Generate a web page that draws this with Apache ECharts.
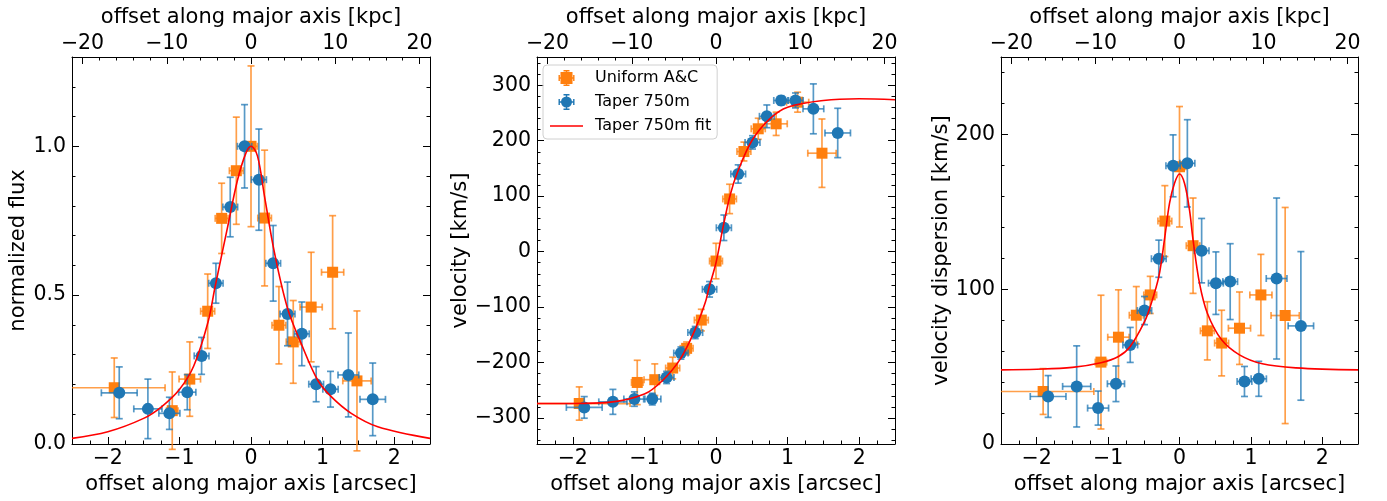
<!DOCTYPE html>
<html>
<head>
<meta charset="utf-8">
<script src="https://cdn.jsdelivr.net/npm/echarts@6/dist/echarts.min.js"></script>
<style>
  html, body { margin: 0; padding: 0; background: #fff; }
  #chart { width: 1387px; height: 501px; }
</style>
</head>
<body>
<div id="chart"></div>
<script>
// offsets along the major axis [arcsec] and their half-widths
var uniformX    = [-1.91, -1.10, -0.855, -0.605, -0.41, -0.205, 0.0, 0.19, 0.39, 0.59, 0.84, 1.14, 1.48];
var uniformXerr = [0.71, 0.08, 0.15, 0.098, 0.09, 0.097, 0.09, 0.095, 0.097, 0.098, 0.155, 0.155, 0.198];
var taperX      = [-1.84, -1.44, -1.14, -0.89, -0.69, -0.49, -0.29, -0.09, 0.11, 0.31, 0.51, 0.71, 0.91, 1.11, 1.36, 1.70];
var taperXerr   = [0.25, 0.197, 0.147, 0.12, 0.103, 0.1, 0.103, 0.1, 0.105, 0.103, 0.104, 0.103, 0.103, 0.107, 0.145, 0.178];

// normalized flux
var fluxUniform    = [0.189, 0.112, 0.218, 0.446, 0.758, 0.918, 1.0, 0.759, 0.399, 0.343, 0.460, 0.577, 0.212];
var fluxUniformErr = [0.10, 0.13, 0.125, 0.125, 0.118, 0.18, 0.27, 0.228, 0.13, 0.139, 0.184, 0.19, 0.235];
var fluxTaper      = [0.172, 0.118, 0.103, 0.174, 0.296, 0.540, 0.796, 1.0, 0.888, 0.607, 0.437, 0.370, 0.201, 0.184, 0.232, 0.150];
var fluxTaperErr   = [0.087, 0.10, 0.054, 0.059, 0.062, 0.067, 0.10, 0.14, 0.17, 0.127, 0.107, 0.107, 0.059, 0.06, 0.141, 0.122];
var fluxFitX = [-2.5, -2.0, -1.5, -1.25, -1.0, -0.8, -0.6, -0.5, -0.33, -0.19, -0.07, 0.0, 0.09, 0.19, 0.33, 0.51, 0.7, 0.93, 1.12, 1.4, 1.77, 2.5];
var fluxFitY = [0.019, 0.041, 0.086, 0.125, 0.183, 0.262, 0.41, 0.53, 0.725, 0.885, 0.978, 1.0, 0.968, 0.83, 0.64, 0.456, 0.338, 0.215, 0.159, 0.103, 0.058, 0.019];

// velocity [km/s]
var velUniform    = [-274, -236, -231, -210, -174.5, -123.5, -17, 95, 180.5, 221.5, 230.5, 269.5, 177.5];
var velUniformErr = [30, 40, 28.5, 19.5, 11.5, 19.5, 32, 26.5, 17, 19, 21, 18, 61.7];
var velTaper      = [-281, -271, -266, -266, -227, -183, -146, -68, 43, 140, 197, 244, 272.6, 272.6, 257.5, 214];
var velTaperErr   = [19.5, 22.5, 13, 10.5, 11, 11, 11, 14, 23, 16.5, 12, 20.5, 8.5, 13.5, 45, 44.5];
var velFitX = [-2.5, -2.0, -1.5, -1.0, -0.75, -0.5, -0.3, -0.15, -0.1, 0.0, 0.1, 0.2, 0.3, 0.5, 0.75, 1.0, 1.5, 2.0, 2.5];
var velFitY = [-274, -274, -272, -257, -233, -194, -143, -92, -66, -20, 45, 103, 143, 200, 239.5, 260.5, 272.5, 275.6, 274];

// velocity dispersion [km/s]
var dispUniform    = [33.9, 52.9, 69, 83.2, 96.3, 144, 179.1, 128.1, 73.1, 65.2, 74.8, 96.3, 83];
var dispUniformErr = [14.8, 43.2, 30.6, 18.5, 12, 22.9, 38.9, 30.8, 18.8, 21.2, 23.4, 26.2, 69.8];
var dispTaper      = [30.7, 37.2, 23.2, 38.9, 64, 86.2, 119.7, 179.7, 181.3, 124.9, 103.9, 104.9, 40.4, 42.1, 106.9, 76.3];
var dispTaperErr   = [13.5, 26.2, 11, 11.5, 11.3, 9.1, 12, 20, 28.2, 20.8, 20.2, 24.5, 9.7, 11.3, 52, 48];
var dispFitX = [-2.5, -2.0, -1.5, -1.1, -0.855, -0.69, -0.49, -0.41, -0.29, -0.205, -0.14, -0.07, 0.0, 0.07, 0.14, 0.19, 0.28, 0.39, 0.59, 0.84, 1.16, 1.63, 2.5];
var dispFitY = [47.9, 48.3, 49.5, 52.5, 56.5, 63, 79, 88.8, 108.1, 134, 155.5, 168.4, 174.4, 168.4, 151.2, 131.8, 103.9, 84.5, 67.3, 57.6, 51.8, 49.2, 47.9];

// tick positions / labels
var arcsecTicks = [-2, -1, 0, 1, 2];
var arcsecMinor = [-2.5, -2.25, -2, -1.75, -1.5, -1.25, -1, -0.75, -0.5, -0.25, 0, 0.25, 0.5, 0.75, 1, 1.25, 1.5, 1.75, 2, 2.25, 2.5];
var kpcTicks = [-20, -10, 0, 10, 20];
var kpcMinor = [-20, -18, -16, -14, -12, -10, -8, -6, -4, -2, 0, 2, 4, 6, 8, 10, 12, 14, 16, 18, 20];
var fluxTicks = [0, 0.5, 1.0];
var fluxMinor = [0, 0.1, 0.2, 0.3, 0.4, 0.5, 0.6, 0.7, 0.8, 0.9, 1.0, 1.1, 1.2, 1.3];
var velTicks = [-300, -200, -100, 0, 100, 200, 300];
var velMinor = [-340, -320, -300, -280, -260, -240, -220, -200, -180, -160, -140, -120, -100, -80, -60, -40, -20, 0,
                20, 40, 60, 80, 100, 120, 140, 160, 180, 200, 220, 240, 260, 280, 300, 320, 340];
var dispTicks = [0, 100, 200];
var dispMinor = [0, 20, 40, 60, 80, 100, 120, 140, 160, 180, 200, 220, 240];

var XMIN = -2.5, XMAX = 2.5;
var KPC = 21.25;
var FONT = 'DejaVu Sans';
var ORANGE = '#ff7f0e', BLUE = '#1f77b4';

var panels = [
    {left: 72,   width: 358, yName: 'normalized flux', nameGap: 40, ymin: 0, ymax: 1.3,
     ticks: fluxTicks, minor: fluxMinor, dec: 1,
     uni: fluxUniform, uniErr: fluxUniformErr, tap: fluxTaper, tapErr: fluxTaperErr, fitX: fluxFitX, fitY: fluxFitY},
    {left: 537,  width: 358, yName: 'velocity [km/s]', nameGap: 65, ymin: -347, ymax: 351,
     ticks: velTicks, minor: velMinor, dec: 0,
     uni: velUniform, uniErr: velUniformErr, tap: velTaper, tapErr: velTaperErr, fitX: velFitX, fitY: velFitY},
    {left: 1001, width: 357, yName: 'velocity dispersion [km/s]', nameGap: 48, ymin: 0, ymax: 250,
     ticks: dispTicks, minor: dispMinor, dec: 0,
     uni: dispUniform, uniErr: dispUniformErr, tap: dispTaper, tapErr: dispTaperErr, fitX: dispFitX, fitY: dispFitY}
];

var minus = function(s){ return String(s).replace('-', '\u2212'); };

var rows = function(xs, ys, xe, ye){
    var res = [];
    for (var i = 0; i < xs.length; i++) res.push([xs[i], ys[i], xe[i], ye[i]]);
    return res;
};
var pairs = function(xs, ys){
    var res = [];
    for (var i = 0; i < xs.length; i++) res.push([xs[i], ys[i]]);
    return res;
};

var renderErrorBars = function(params, api){
    var x = api.value(0), y = api.value(1), xe = api.value(2), ye = api.value(3);
    var c = api.coord([x, y]);
    var lx = Math.max(x - xe, XMIN), rx = Math.min(x + xe, XMAX);
    var l = api.coord([lx, y]), r = api.coord([rx, y]);
    var t = api.coord([x, y + ye]), b = api.coord([x, y - ye]);
    var cap = 3.5;
    var style = {stroke: api.visual('color'), lineWidth: 1.7, fill: null};
    var kids = [
        {type: 'line', shape: {x1: l[0], y1: c[1], x2: r[0], y2: c[1]}, style: style},
        {type: 'line', shape: {x1: c[0], y1: t[1], x2: c[0], y2: b[1]}, style: style},
        {type: 'line', shape: {x1: c[0] - cap, y1: t[1], x2: c[0] + cap, y2: t[1]}, style: style},
        {type: 'line', shape: {x1: c[0] - cap, y1: b[1], x2: c[0] + cap, y2: b[1]}, style: style}
    ];
    if (lx === x - xe) kids.push({type: 'line', shape: {x1: l[0], y1: c[1] - cap, x2: l[0], y2: c[1] + cap}, style: style});
    if (rx === x + xe) kids.push({type: 'line', shape: {x1: r[0], y1: c[1] - cap, x2: r[0], y2: c[1] + cap}, style: style});
    return {type: 'group', children: kids};
};

var tickAxis = function(base, vals, len, labels){
    var ax = Object.assign({
        type: 'value',
        splitLine: {show: false},
        axisLine: {show: labels, onZero: false, lineStyle: {color: '#000', width: 1}},
        axisTick: {show: true, inside: true, length: len, customValues: vals, lineStyle: {color: '#000', width: 1}},
        axisLabel: {show: false},
        nameTextStyle: {color: '#000', fontFamily: FONT, fontSize: 21}
    }, base);
    return ax;
};

var grid = [], xAxis = [], yAxis = [], series = [];
var labelStyle = {color: '#000', fontFamily: FONT, fontSize: 20.5};

panels.forEach(function(p, g){
    grid.push({left: p.left, top: 57, width: p.width, height: 387, containLabel: false, outerBoundsMode: 'none'});

    // bottom arcsec axis (major + minor)
    var bx = tickAxis({gridIndex: g, position: 'bottom', min: XMIN, max: XMAX,
        name: 'offset along major axis [arcsec]', nameLocation: 'middle', nameGap: 23}, arcsecTicks, 7, true);
    bx.axisLabel = Object.assign({show: true, margin: 4, customValues: arcsecTicks, formatter: minus}, labelStyle);
    xAxis.push(bx);
    xAxis.push(tickAxis({gridIndex: g, position: 'bottom', min: XMIN, max: XMAX}, arcsecMinor, 3.5, false));
    // top kpc axis (major + minor)
    var tx = tickAxis({gridIndex: g, position: 'top', min: -KPC, max: KPC,
        name: 'offset along major axis [kpc]', nameLocation: 'middle', nameGap: 29}, kpcTicks, 7, true);
    tx.axisLabel = Object.assign({show: true, margin: 3, customValues: kpcTicks, formatter: minus}, labelStyle);
    xAxis.push(tx);
    xAxis.push(tickAxis({gridIndex: g, position: 'top', min: -KPC, max: KPC}, kpcMinor, 3.5, false));

    // left and right y axes
    var ly = tickAxis({gridIndex: g, position: 'left', min: p.ymin, max: p.ymax,
        name: p.yName, nameLocation: 'middle', nameGap: p.nameGap}, p.ticks, 7, true);
    ly.axisLabel = Object.assign({show: true, margin: 6, customValues: p.ticks,
        formatter: function(v){ return minus(v.toFixed(p.dec)); }}, labelStyle);
    yAxis.push(ly);
    yAxis.push(tickAxis({gridIndex: g, position: 'left', min: p.ymin, max: p.ymax}, p.minor, 3.5, false));
    yAxis.push(tickAxis({gridIndex: g, position: 'right', min: p.ymin, max: p.ymax}, p.ticks, 7, true));
    yAxis.push(tickAxis({gridIndex: g, position: 'right', min: p.ymin, max: p.ymax}, p.minor, 3.5, false));

    var xi = g * 4, yi = g * 4;
    series.push({
        type: 'custom', xAxisIndex: xi, yAxisIndex: yi, clip: false, z: 2,
        itemStyle: {color: 'rgba(255,127,14,0.75)'},
        encode: {x: 0, y: 1},
        renderItem: renderErrorBars,
        data: rows(uniformX, p.uni, uniformXerr, p.uniErr)
    });
    series.push({
        name: 'Uniform A&C', type: 'scatter', xAxisIndex: xi, yAxisIndex: yi, z: 3,
        symbol: 'rect', symbolSize: 11, symbolKeepAspect: true,
        itemStyle: {color: ORANGE, opacity: 1},
        data: pairs(uniformX, p.uni)
    });
    series.push({
        type: 'custom', xAxisIndex: xi, yAxisIndex: yi, clip: false, z: 4,
        itemStyle: {color: 'rgba(31,119,180,0.75)'},
        encode: {x: 0, y: 1},
        renderItem: renderErrorBars,
        data: rows(taperX, p.tap, taperXerr, p.tapErr)
    });
    series.push({
        name: 'Taper 750m', type: 'scatter', xAxisIndex: xi, yAxisIndex: yi, z: 5,
        symbol: 'circle', symbolSize: 12, symbolKeepAspect: true,
        itemStyle: {color: BLUE, opacity: 1},
        data: pairs(taperX, p.tap)
    });
    series.push({
        name: 'Taper 750m fit', type: 'line', xAxisIndex: xi, yAxisIndex: yi, z: 6,
        smooth: 0.35, symbol: 'none',
        lineStyle: {color: '#ff0000', width: 1.6},
        itemStyle: {color: '#ff0000'},
        data: pairs(p.fitX, p.fitY)
    });
});

var bars = ' M0,7.3h16v1.4h-16z M7.3,0h1.4v16h-1.4z M0,5h1.4v6h-1.4z M14.6,5h1.4v6h-1.4z M5,0h6v1.4h-6z M5,14.6h6v1.4h-6z';
var squareIcon = 'path://M2,2h12v12h-12z' + bars;
var circleIcon = 'path://M2.5,8a5.5,5.5 0 1,1 11,0a5.5,5.5 0 1,1 -11,0z' + bars;
var lineIcon = 'path://M0,7.2h33v1.6h-33z M0,0h0.01v0.01h-0.01z M32.99,15.99h0.01v0.01h-0.01z';

var myChart = echarts.init(document.getElementById('chart'), null, {renderer: 'canvas'});
var option = {
    animation: false,
    backgroundColor: '#fff',
    grid: grid,
    xAxis: xAxis,
    yAxis: yAxis,
    legend: {
        orient: 'vertical', left: 543, top: 65,
        itemWidth: 33, itemHeight: 16, itemGap: 8,
        padding: [5, 6, 5, 7],
        backgroundColor: 'rgba(255,255,255,0.8)',
        borderColor: '#d0d0d0', borderWidth: 1, borderRadius: 4,
        textStyle: {color: '#000', fontFamily: FONT, fontSize: 16, padding: [0, 0, 0, 7]},
        data: [
            {name: 'Uniform A&C', icon: squareIcon},
            {name: 'Taper 750m', icon: circleIcon},
            {name: 'Taper 750m fit', icon: lineIcon}
        ]
    },
    series: series
};
myChart.setOption(option);
</script>
</body>
</html>
